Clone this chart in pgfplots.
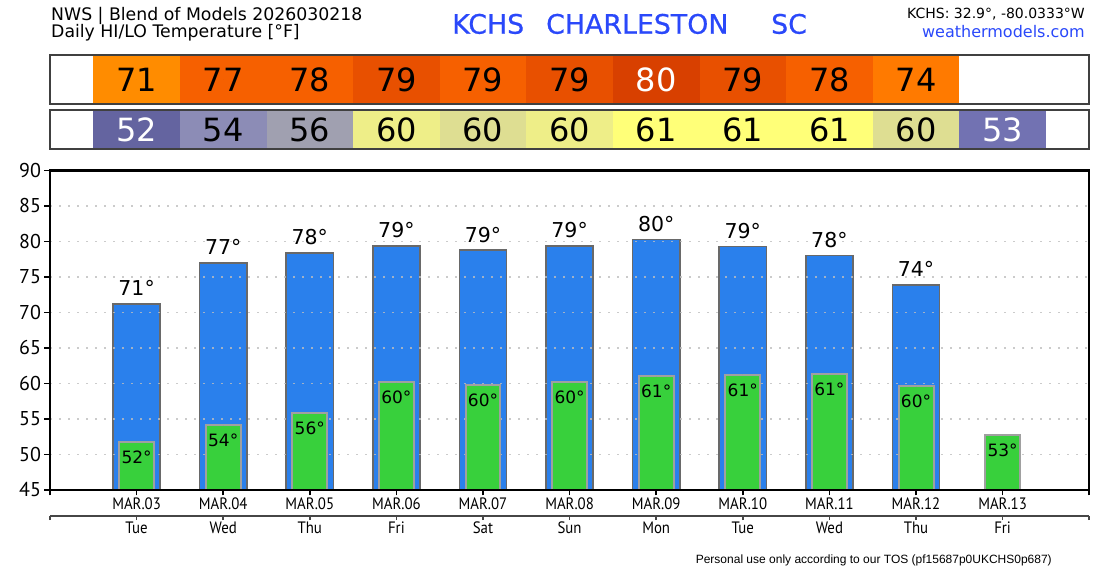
\documentclass[border=0pt]{standalone}
\usepackage{fontspec}
\usepackage{pgfplots}
\usepackage{pgfplotstable}
\pgfplotsset{compat=1.18}
\setmainfont{DejaVu Sans}
\newfontfamily\valfont{DejaVu Sans}
\newfontfamily\tickfont{PT Sans}
\newfontfamily\narrowfont{PT Sans}[FakeStretch=0.9]
\newfontfamily\titlefont{DejaVu Sans}[FakeBold=0.6]
\newfontfamily\footfont{Liberation Sans}

% panel cell colours
\definecolor{h71}{RGB}{255,140,0}
\definecolor{h77}{RGB}{246,96,0}
\definecolor{h79}{RGB}{232,80,0}
\definecolor{h80}{RGB}{216,64,0}
\definecolor{h74}{RGB}{255,122,0}
\definecolor{l52}{RGB}{100,100,160}
\definecolor{l53}{RGB}{114,114,178}
\definecolor{l54}{RGB}{140,140,182}
\definecolor{l56}{RGB}{160,160,176}
\definecolor{l60a}{RGB}{238,238,136}
\definecolor{l60b}{RGB}{222,222,146}
\definecolor{l61}{RGB}{255,255,120}
% chart colours
\definecolor{barblue}{RGB}{42,128,236}
\definecolor{bluegray}{RGB}{105,105,105}
\definecolor{bargreen}{RGB}{56,208,60}
\definecolor{greengray}{RGB}{160,160,160}
\definecolor{gridgray}{RGB}{190,190,190}
\definecolor{boxgray}{RGB}{64,64,64}
\definecolor{axgray}{RGB}{70,70,70}
\definecolor{titleblue}{RGB}{42,72,250}

% daily forecast: day index, high, low, white-text flags for the panels
\pgfplotstableread{
x  hi    lo    hw lw
0  71.2  51.8  0  1
1  77.0  54.1  0  0
2  78.4  55.8  0  0
3  79.4  60.2  0  0
4  78.8  59.8  0  0
5  79.4  60.2  0  0
6  80.3  61.0  1  0
7  79.3  61.2  0  0
8  78.0  61.3  0  0
9  73.9  59.6  0  0
10 nan   52.7  0  1
}\temps

\pgfplotsset{
  mainaxis/.style={scale only axis, width=1039.2pt, height=319.5pt,
    xmin=-1, xmax=11, ymin=45, ymax=90, at={(50pt,80pt)}, anchor=south west},
  panel/.style={scale only axis, width=1039.2pt, xmin=-1, xmax=11, ymin=0, ymax=1,
    anchor=south west, ticks=none, axis on top,
    axis line style={line width=2pt, draw=boxgray}},
  cell/.style={ybar, bar width=1, bar shift=0pt, draw=none, fill=#1},
  labelplot/.style={only marks, mark=*, mark size=0pt, mark options={draw=none, fill=none},
    /pgf/number format/assume math mode=true},
  cellnum/.style={labelplot,
    nodes near coords={\pgfmathprintnumber[fixed,precision=0]{\pgfplotspointmeta}},
    every node near coord/.append style={anchor=center, inner sep=0pt, text=#1,
      font=\valfont\fontsize{32}{32}\selectfont}},
}

\begin{document}
\begin{tikzpicture}
\path[use as bounding box] (0,0) rectangle (1100pt,570pt);

% header
\node[anchor=base west, inner sep=0pt, font=\fontsize{17.3}{17.3}\selectfont] at (51pt,549pt) {NWS | Blend of Models 2026030218};
\node[anchor=base west, inner sep=0pt, font=\fontsize{17.3}{17.3}\selectfont] at (51pt,532.5pt) {Daily HI/LO Temperature [°F]};
\node[anchor=base west, inner sep=0pt, text=titleblue, font=\titlefont\fontsize{26.8}{26.8}\selectfont] at (452pt,536.3pt) {KCHS};
\node[anchor=base west, inner sep=0pt, text=titleblue, font=\titlefont\fontsize{26.8}{26.8}\selectfont] at (546pt,536.3pt) {CHARLESTON};
\node[anchor=base west, inner sep=0pt, text=titleblue, font=\titlefont\fontsize{26.8}{26.8}\selectfont] at (771pt,536.3pt) {SC};
\node[anchor=base east, inner sep=0pt, font=\fontsize{14}{14}\selectfont] at (1085pt,551.3pt) {KCHS: 32.9°, -80.0333°W};
\node[anchor=base east, inner sep=0pt, text=titleblue, font=\fontsize{16}{16}\selectfont] at (1085pt,532pt) {weathermodels.com};

% high temperature panel
\begin{axis}[panel, height=49.6pt, at={(50pt,465.7pt)}]
\addplot[cell=h71] coordinates {(0,1)};
\addplot[cell=h77] coordinates {(1,1)};
\addplot[cell=h77] coordinates {(2,1)};
\addplot[cell=h79] coordinates {(3,1)};
\addplot[cell=h77] coordinates {(4,1)};
\addplot[cell=h79] coordinates {(5,1)};
\addplot[cell=h80] coordinates {(6,1)};
\addplot[cell=h79] coordinates {(7,1)};
\addplot[cell=h77] coordinates {(8,1)};
\addplot[cell=h74] coordinates {(9,1)};
\addplot[cellnum=black, point meta=\thisrow{hi}, skip coords between index={10}{11},
  restrict expr to domain={\thisrow{hw}}{-0.5:0.5}]
  table[x=x, y expr=0.5] {\temps};
\addplot[cellnum=white, point meta=\thisrow{hi}, skip coords between index={10}{11},
  restrict expr to domain={\thisrow{hw}}{0.5:1.5}]
  table[x=x, y expr=0.5] {\temps};
\end{axis}

% low temperature panel
\begin{axis}[panel, height=39.3pt, at={(50pt,420.7pt)}]
\addplot[cell=l52] coordinates {(0,1)};
\addplot[cell=l54] coordinates {(1,1)};
\addplot[cell=l56] coordinates {(2,1)};
\addplot[cell=l60a] coordinates {(3,1)};
\addplot[cell=l60b] coordinates {(4,1)};
\addplot[cell=l60a] coordinates {(5,1)};
\addplot[cell=l61] coordinates {(6,1)};
\addplot[cell=l61] coordinates {(7,1)};
\addplot[cell=l61] coordinates {(8,1)};
\addplot[cell=l60b] coordinates {(9,1)};
\addplot[cell=l53] coordinates {(10,1)};
\addplot[cellnum=black, point meta=\thisrow{lo}, restrict expr to domain={\thisrow{lw}}{-0.5:0.5}]
  table[x=x, y expr=0.5] {\temps};
\addplot[cellnum=white, point meta=\thisrow{lo}, restrict expr to domain={\thisrow{lw}}{0.5:1.5}]
  table[x=x, y expr=0.5] {\temps};
\end{axis}

% high bars
\begin{axis}[mainaxis, axis line style={draw=none}, xtick=\empty, ytick=\empty]
\addplot[ybar, bar width=0.543, bar shift=0pt, fill=barblue, draw=bluegray, line width=1.6pt]
  table[x=x, y=hi] {\temps};
\end{axis}

% grid, low bars and value labels
\begin{axis}[mainaxis, axis line style={draw=none}, xtick=\empty,
  ytick={50,55,...,85}, yticklabels={}, major tick length=0pt, ymajorgrids,
  grid style={draw=gridgray, draw opacity=0.8, line width=1.8pt, dash pattern=on 1.8pt off 7.2pt}]
\addplot[ybar, bar width=0.404, bar shift=0pt, fill=bargreen, draw=greengray, line width=2pt]
  table[x=x, y=lo] {\temps};
\addplot[labelplot, point meta=\thisrow{lo},
  nodes near coords={\pgfmathprintnumber[fixed,precision=0]{\pgfplotspointmeta}°},
  every node near coord/.append style={anchor=base, yshift=-21.5pt, inner sep=0pt, font=\valfont\fontsize{17}{17}\selectfont}]
  table[x=x, y=lo] {\temps};
\addplot[labelplot, point meta=\thisrow{hi},
  nodes near coords={\pgfmathprintnumber[fixed,precision=0]{\pgfplotspointmeta}°},
  every node near coord/.append style={anchor=base, yshift=8pt, inner sep=0pt, font=\valfont\fontsize{20.5}{20.5}\selectfont}]
  table[x=x, y=hi] {\temps};
\end{axis}

% frame, y ticks and dates
\begin{axis}[mainaxis, axis line style={line width=2.5pt, black},
  /pgf/number format/assume math mode=true,
  xtick={-1,...,11},
  xticklabels={{},MAR.03,MAR.04,MAR.05,MAR.06,MAR.07,MAR.08,MAR.09,MAR.10,MAR.11,MAR.12,MAR.13,{}},
  ytick={45,50,...,90}, tick align=outside, xtick pos=bottom, ytick pos=left,
  major tick length=5.5pt, tick style={black, line width=1.5pt},
  yticklabel style={font=\tickfont\fontsize{20}{20}\selectfont},
  xticklabel style={font=\narrowfont\fontsize{16.5}{16.5}\selectfont, anchor=base, yshift=-14pt}]
\end{axis}

% weekday row
\begin{axis}[scale only axis, width=1039.2pt, height=10pt, xmin=-1, xmax=11, ymin=0, ymax=1,
  at={(50pt,54.5pt)}, anchor=south west, axis x line*=bottom, axis y line=none,
  xtick={-1,...,11},
  xticklabels={{},Tue,Wed,Thu,Fri,Sat,Sun,Mon,Tue,Wed,Thu,Fri,{}},
  tick align=outside, major tick length=4.5pt,
  x axis line style={line width=2pt, draw=axgray}, tick style={draw=axgray, line width=1.5pt},
  xticklabel style={font=\narrowfont\fontsize{16.5}{16.5}\selectfont, anchor=base, yshift=-13pt}]
\end{axis}

% footer
\node[anchor=base east, inner sep=0pt, font=\footfont\fontsize{12}{12}\selectfont] at (1052pt,6pt) {Personal use only according to our TOS (pf15687p0UKCHS0p687)};
\end{tikzpicture}
\end{document}
